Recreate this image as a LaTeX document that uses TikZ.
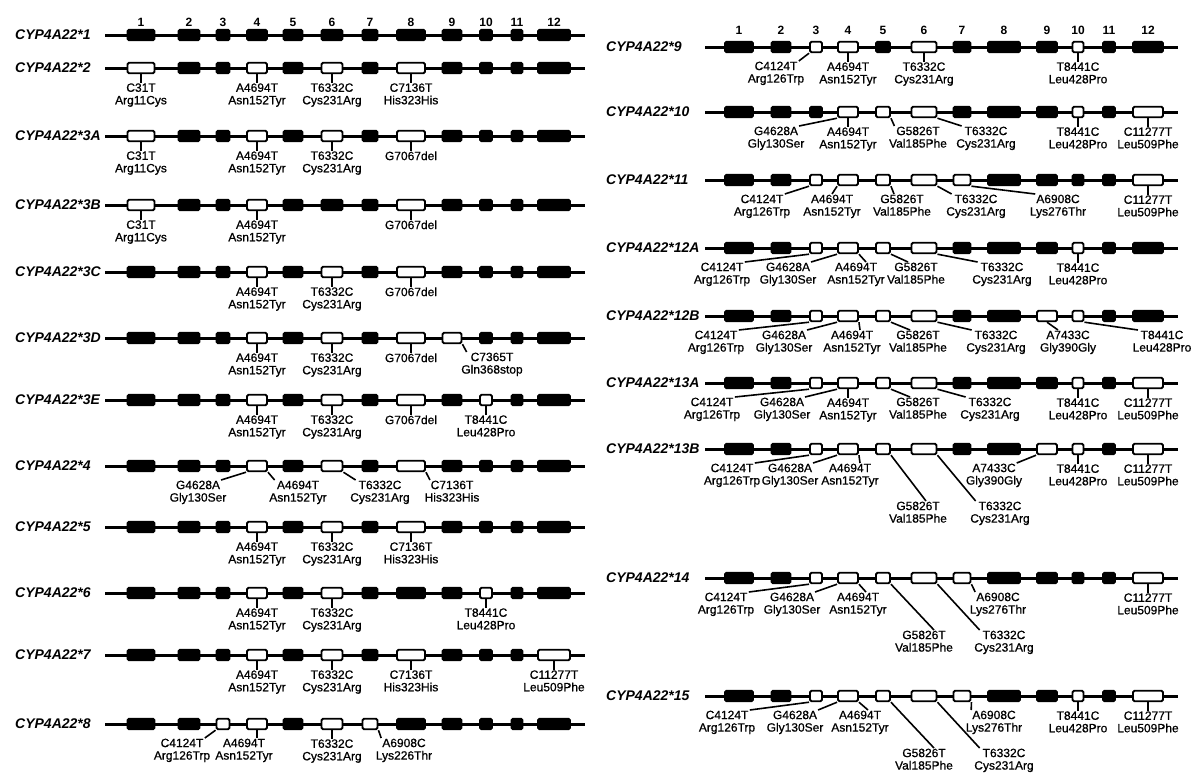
\documentclass[tikz,border=0pt]{standalone}
\usepackage{fontspec}
\setmainfont{Liberation Sans}
\newfontfamily\mutfont[FakeBold=0.8]{Liberation Sans}
\usetikzlibrary{positioning}

% exon centre / width, left and right column
\newcommand{\exonsL}{1/141/27,2/189/21,3/223/13,4/257/20,5/293/19,6/332/21,7/370/15,8/411/28,9/452/19,10/486/12,11/517/11,12/554/32}
\newcommand{\exonsR}{1/739/28,2/781/19,3/816/12,4/848/20,5/883/14,6/924/25,7/962/17,8/1004/32,9/1047/20,10/1078/11,11/1109/12,12/1148/30}

\tikzset{
  gene/.style={line width=3pt},
  exon/.style={draw, fill=black, line width=1.9pt, rounded corners=1.5pt,
    minimum height=10.5pt, inner sep=0pt},
  openexon/.style={exon, fill=white},
  lead/.style={line width=1.6pt},
  mut/.style={font=\mutfont\fontsize{12}{12.5}\selectfont, align=center,
    inner sep=0.5pt, anchor=north},
  rowname/.style={font=\fontsize{14}{14}\selectfont\bfseries\itshape,
    anchor=west, inner sep=0pt},
  exnum/.style={font=\fontsize{12}{12}\selectfont\bfseries, inner sep=0pt},
}

% one allele: id, y, column (L/R), name, open exons
\newcommand{\generow}[5]{%
  \ifx L#3\def\glab{15}\def\gbeg{105}\def\gend{585}\let\exlist\exonsL
  \else\def\glab{606}\def\gbeg{705}\def\gend{1178}\let\exlist\exonsR\fi
  \node[rowname] (#1) at (\glab,#2) {#4};
  \coordinate (#1-s) at (\gbeg,#2);
  \coordinate (#1-e) at (\gend,#2);
  \draw[gene] (#1-s) -- (#1-e);
  \foreach \ei/\ex/\ew in \exlist {
    \gdef\exsty{exon}
    \foreach \eo in {#5} {\ifnum\eo=\ei\relax\gdef\exsty{openexon}\fi}
    \node[\exsty, minimum width=\ew pt] (#1-\ei) at (\ex,#2) {};
  }
}

% label straight below an exon
\newcommand{\vmut}[4]{%
  \node[mut, below=8.5pt of #1-#2] (#1-#3) {#4};
  \draw[lead] (#1-#2) -- (#1-#3);
}

\begin{document}
\begin{tikzpicture}[x=1pt,y=-1pt]
\useasboundingbox (0,0) rectangle (1201,777);

% ---- left column ----
\generow{r1}{35}{L}{CYP4A22*1}{0}
\foreach \i in {1,...,12} \node[exnum] (nL\i) at (r1-\i |- 0,22) {\i};

\generow{r2}{68}{L}{CYP4A22*2}{1,4,6,8}
\vmut{r2}{1}{a}{C31T\\Arg11Cys}
\vmut{r2}{4}{b}{A4694T\\Asn152Tyr}
\vmut{r2}{6}{c}{T6332C\\Cys231Arg}
\vmut{r2}{8}{d}{C7136T\\His323His}

\generow{r3a}{136}{L}{CYP4A22*3A}{1,4,6,8}
\vmut{r3a}{1}{a}{C31T\\Arg11Cys}
\vmut{r3a}{4}{b}{A4694T\\Asn152Tyr}
\vmut{r3a}{6}{c}{T6332C\\Cys231Arg}
\vmut{r3a}{8}{d}{G7067del}

\generow{r3b}{205}{L}{CYP4A22*3B}{1,4,8}
\vmut{r3b}{1}{a}{C31T\\Arg11Cys}
\vmut{r3b}{4}{b}{A4694T\\Asn152Tyr}
\vmut{r3b}{8}{c}{G7067del}

\generow{r3c}{272}{L}{CYP4A22*3C}{4,6,8}
\vmut{r3c}{4}{a}{A4694T\\Asn152Tyr}
\vmut{r3c}{6}{b}{T6332C\\Cys231Arg}
\vmut{r3c}{8}{c}{G7067del}

\generow{r3d}{338}{L}{CYP4A22*3D}{4,6,8,9}
\vmut{r3d}{4}{a}{A4694T\\Asn152Tyr}
\vmut{r3d}{6}{b}{T6332C\\Cys231Arg}
\vmut{r3d}{8}{c}{G7067del}
\node[mut] (r3d-d) at (492,352) {C7365T\\Gln368stop};
\draw[lead] (r3d-9.south east) -- ([xshift=6pt]r3d-d.north west);

\generow{r3e}{400}{L}{CYP4A22*3E}{4,6,8,10}
\vmut{r3e}{4}{a}{A4694T\\Asn152Tyr}
\vmut{r3e}{6}{b}{T6332C\\Cys231Arg}
\vmut{r3e}{8}{c}{G7067del}
\vmut{r3e}{10}{d}{T8441C\\Leu428Pro}

\generow{r4}{466}{L}{CYP4A22*4}{4,6,8}
\node[mut] (r4-a) at (198,480) {G4628A\\Gly130Ser};
\node[mut] (r4-b) at (298,480) {A4694T\\Asn152Tyr};
\node[mut] (r4-c) at (380,480) {T6332C\\Cys231Arg};
\node[mut] (r4-d) at (452,480) {C7136T\\His323His};
\draw[lead] (r4-4.south west) -- ([xshift=-6pt]r4-a.north east);
\draw[lead] (r4-4.south east) -- ([xshift=6pt]r4-b.north west);
\draw[lead] (r4-6.south east) -- ([xshift=6pt]r4-c.north west);
\draw[lead] (r4-8.south east) -- ([xshift=6pt]r4-d.north west);

\generow{r5}{527}{L}{CYP4A22*5}{4,6,8}
\vmut{r5}{4}{a}{A4694T\\Asn152Tyr}
\vmut{r5}{6}{b}{T6332C\\Cys231Arg}
\vmut{r5}{8}{c}{C7136T\\His323His}

\generow{r6}{593}{L}{CYP4A22*6}{4,6,10}
\vmut{r6}{4}{a}{A4694T\\Asn152Tyr}
\vmut{r6}{6}{b}{T6332C\\Cys231Arg}
\vmut{r6}{10}{c}{T8441C\\Leu428Pro}

\generow{r7}{655}{L}{CYP4A22*7}{4,6,8,12}
\vmut{r7}{4}{a}{A4694T\\Asn152Tyr}
\vmut{r7}{6}{b}{T6332C\\Cys231Arg}
\vmut{r7}{8}{c}{C7136T\\His323His}
\vmut{r7}{12}{d}{C11277T\\Leu509Phe}

\generow{r8}{724}{L}{CYP4A22*8}{3,4,6,7}
\node[mut] (r8-a) at (182,738) {C4124T\\Arg126Trp};
\node[mut] (r8-b) at (244,738) {A4694T\\Asn152Tyr};
\vmut{r8}{6}{c}{T6332C\\Cys231Arg}
\node[mut] (r8-d) at (404,738) {A6908C\\Lys226Thr};
\draw[lead] (r8-3.south west) -- ([xshift=-6pt]r8-a.north east);
\draw[lead] (r8-4.south) -- (r8-4.south |- r8-b.north);
\draw[lead] (r8-7.south east) -- ([xshift=6pt]r8-d.north west);

% ---- right column ----
\generow{r9}{47}{R}{CYP4A22*9}{3,4,6,10}
\foreach \i in {1,...,12} \node[exnum] (nR\i) at (r9-\i |- 0,30) {\i};
\node[mut] (r9-a) at (776,61) {C4124T\\Arg126Trp};
\draw[lead] (r9-3.south west) -- ([xshift=-6pt]r9-a.north east);
\vmut{r9}{4}{b}{A4694T\\Asn152Tyr}
\vmut{r9}{6}{c}{T6332C\\Cys231Arg}
\vmut{r9}{10}{d}{T8441C\\Leu428Pro}

\generow{r10}{112}{R}{CYP4A22*10}{4,5,6,10,12}
\node[mut] (r10-a) at (776,126) {G4628A\\Gly130Ser};
\vmut{r10}{4}{b}{A4694T\\Asn152Tyr}
\node[mut] (r10-c) at (918,126) {G5826T\\Val185Phe};
\node[mut] (r10-d) at (986,126) {T6332C\\Cys231Arg};
\vmut{r10}{10}{e}{T8441C\\Leu428Pro}
\vmut{r10}{12}{f}{C11277T\\Leu509Phe}
\draw[lead] (r10-4.south west) -- ([xshift=-6pt]r10-a.north east);
\draw[lead] (r10-5.south east) -- ([xshift=6pt]r10-c.north west);
\draw[lead] (r10-6.south east) -- ([xshift=6pt]r10-d.north west);

\generow{r11}{180}{R}{CYP4A22*11}{3,4,5,6,7,12}
\node[mut] (r11-a) at (762,194) {C4124T\\Arg126Trp};
\node[mut] (r11-b) at (832,194) {A4694T\\Asn152Tyr};
\node[mut] (r11-c) at (902,194) {G5826T\\Val185Phe};
\node[mut] (r11-d) at (976,194) {T6332C\\Cys231Arg};
\node[mut] (r11-e) at (1058,194) {A6908C\\Lys276Thr};
\vmut{r11}{12}{f}{C11277T\\Leu509Phe}
\draw[lead] (r11-3.south west) -- ([xshift=-6pt]r11-a.north east);
\draw[lead] (r11-4.south west) -- (r11-b.north);
\draw[lead] (r11-5.south east) -- ([xshift=-8pt]r11-c.north);
\draw[lead] (r11-6.south east) -- ([xshift=6pt]r11-d.north west);
\draw[lead] (r11-7.south east) -- ([xshift=6pt]r11-e.north west);

\generow{r12a}{248}{R}{CYP4A22*12A}{3,4,5,6,10}
\node[mut] (r12a-a) at (722,262) {C4124T\\Arg126Trp};
\node[mut] (r12a-b) at (788,262) {G4628A\\Gly130Ser};
\node[mut] (r12a-c) at (856,262) {A4694T\\Asn152Tyr};
\node[mut] (r12a-d) at (916,262) {G5826T\\Val185Phe};
\node[mut] (r12a-e) at (1002,262) {T6332C\\Cys231Arg};
\vmut{r12a}{10}{f}{T8441C\\Leu428Pro}
\draw[lead] (r12a-3.south west) -- ([xshift=-6pt]r12a-a.north east);
\draw[lead] (r12a-4.south west) -- ([xshift=-6pt]r12a-b.north east);
\draw[lead] (r12a-4.south east) -- ([xshift=10pt]r12a-c.north);
\draw[lead] (r12a-5.south east) -- ([xshift=-8pt]r12a-d.north);
\draw[lead] (r12a-6.south east) -- ([xshift=6pt]r12a-e.north west);

\generow{r12b}{316}{R}{CYP4A22*12B}{3,4,5,6,9,10}
\node[mut] (r12b-a) at (716,330) {C4124T\\Arg126Trp};
\node[mut] (r12b-b) at (784,330) {G4628A\\Gly130Ser};
\node[mut] (r12b-c) at (852,330) {A4694T\\Asn152Tyr};
\node[mut] (r12b-d) at (918,330) {G5826T\\Val185Phe};
\node[mut] (r12b-e) at (996,330) {T6332C\\Cys231Arg};
\node[mut] (r12b-f) at (1068,330) {A7433C\\Gly390Gly};
\node[mut] (r12b-g) at (1162,330) {T8441C\\Leu428Pro};
\draw[lead] (r12b-3.south west) -- ([xshift=-6pt]r12b-a.north east);
\draw[lead] (r12b-4.south west) -- ([xshift=-6pt]r12b-b.north east);
\draw[lead] (r12b-4.south east) -- ([xshift=8pt]r12b-c.north);
\draw[lead] (r12b-5.south east) -- ([xshift=-8pt]r12b-d.north);
\draw[lead] (r12b-6.south east) -- ([xshift=6pt]r12b-e.north west);
\draw[lead] (r12b-9.south) -- ([xshift=-10pt]r12b-f.north);
\draw[lead] (r12b-10.south east) -- ([xshift=6pt]r12b-g.north west);

\generow{r13a}{383}{R}{CYP4A22*13A}{3,4,5,6,10,12}
\node[mut] (r13a-a) at (712,397) {C4124T\\Arg126Trp};
\node[mut] (r13a-b) at (782,397) {G4628A\\Gly130Ser};
\vmut{r13a}{4}{c}{A4694T\\Asn152Tyr}
\node[mut] (r13a-d) at (918,397) {G5826T\\Val185Phe};
\node[mut] (r13a-e) at (990,397) {T6332C\\Cys231Arg};
\vmut{r13a}{10}{f}{T8441C\\Leu428Pro}
\vmut{r13a}{12}{g}{C11277T\\Leu509Phe}
\draw[lead] (r13a-3.south west) -- ([xshift=-6pt]r13a-a.north east);
\draw[lead] (r13a-4.south west) -- ([xshift=-6pt]r13a-b.north east);
\draw[lead] (r13a-5.south east) -- ([xshift=-8pt]r13a-d.north);
\draw[lead] (r13a-6.south east) -- ([xshift=6pt]r13a-e.north west);

\generow{r13b}{449}{R}{CYP4A22*13B}{3,4,5,6,9,10,12}
\node[mut] (r13b-a) at (732,463) {C4124T\\Arg126Trp};
\node[mut] (r13b-b) at (790,463) {G4628A\\Gly130Ser};
\node[mut] (r13b-c) at (850,463) {A4694T\\Asn152Tyr};
\node[mut] (r13b-d) at (918,501) {G5826T\\Val185Phe};
\node[mut] (r13b-e) at (1000,501) {T6332C\\Cys231Arg};
\node[mut] (r13b-f) at (994,463) {A7433C\\Gly390Gly};
\vmut{r13b}{10}{g}{T8441C\\Leu428Pro}
\vmut{r13b}{12}{h}{C11277T\\Leu509Phe}
\draw[lead] (r13b-3.south west) -- ([xshift=-6pt]r13b-a.north east);
\draw[lead] (r13b-4.south west) -- ([xshift=-6pt]r13b-b.north east);
\draw[lead] (r13b-4.south east) -- ([xshift=10pt]r13b-c.north);
\draw[lead] (r13b-5.south east) -- ([xshift=8pt]r13b-d.north);
\draw[lead] (r13b-6.south east) -- ([xshift=6pt]r13b-e.north west);
\draw[lead] (r13b-9.south west) -- ([xshift=-6pt]r13b-f.north east);

\generow{r14}{578}{R}{CYP4A22*14}{3,4,5,6,7,12}
\node[mut] (r14-a) at (726,592) {C4124T\\Arg126Trp};
\node[mut] (r14-b) at (792,592) {G4628A\\Gly130Ser};
\node[mut] (r14-c) at (858,592) {A4694T\\Asn152Tyr};
\node[mut] (r14-d) at (924,630) {G5826T\\Val185Phe};
\node[mut] (r14-e) at (1004,630) {T6332C\\Cys231Arg};
\node[mut] (r14-f) at (998,592) {A6908C\\Lys276Thr};
\vmut{r14}{12}{g}{C11277T\\Leu509Phe}
\draw[lead] (r14-3.south west) -- ([xshift=-6pt]r14-a.north east);
\draw[lead] (r14-4.south west) -- ([xshift=-6pt]r14-b.north east);
\draw[lead] (r14-4.south east) -- ([xshift=8pt]r14-c.north);
\draw[lead] (r14-5.south east) -- ([xshift=10pt]r14-d.north);
\draw[lead] (r14-6.south east) -- ([xshift=6pt]r14-e.north west);
\draw[lead] (r14-7.south east) -- ([xshift=6pt]r14-f.north west);

\generow{r15}{696}{R}{CYP4A22*15}{3,4,5,6,7,10,12}
\node[mut] (r15-a) at (727,710) {C4124T\\Arg126Trp};
\node[mut] (r15-b) at (795,710) {G4628A\\Gly130Ser};
\node[mut] (r15-c) at (860,710) {A4694T\\Asn152Tyr};
\node[mut] (r15-d) at (924,748) {G5826T\\Val185Phe};
\node[mut] (r15-e) at (1004,748) {T6332C\\Cys231Arg};
\node[mut] (r15-f) at (994,710) {A6908C\\Lys276Thr};
\vmut{r15}{10}{g}{T8441C\\Leu428Pro}
\vmut{r15}{12}{h}{C11277T\\Leu509Phe}
\draw[lead] (r15-3.south west) -- ([xshift=-6pt]r15-a.north east);
\draw[lead] (r15-4.south west) -- ([xshift=-6pt]r15-b.north east);
\draw[lead] (r15-4.south east) -- ([xshift=8pt]r15-c.north);
\draw[lead] (r15-5.south east) -- ([xshift=10pt]r15-d.north);
\draw[lead] (r15-6.south east) -- ([xshift=6pt]r15-e.north west);
\draw[lead] (r15-7.south east) -- ([xshift=6pt]r15-f.north west);
\end{tikzpicture}
\end{document}
